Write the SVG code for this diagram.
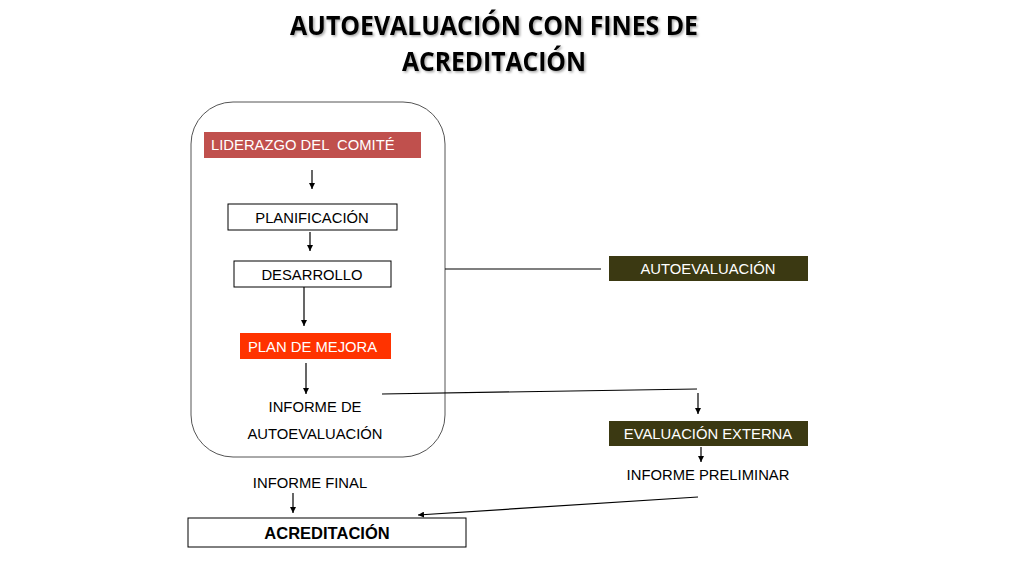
<svg xmlns="http://www.w3.org/2000/svg" width="1024" height="576" viewBox="0 0 1024 576">
<defs>
<marker id="ah" viewBox="0 0 10 10" refX="10" refY="5" markerWidth="6" markerHeight="6" orient="auto" markerUnits="userSpaceOnUse">
<path d="M0,0 L10,5 L0,10 z" fill="#000"/>
</marker>
<filter id="sh" x="-5%" y="-20%" width="110%" height="140%">
<feDropShadow dx="1.5" dy="1.5" stdDeviation="0.8" flood-color="#000" flood-opacity="0.35"/>
</filter>
<style>
.t{font-family:"Liberation Sans",Arial,sans-serif;font-size:14.8px;fill:#000;text-anchor:middle;white-space:pre}
.w{fill:#fff}
.box{fill:#fff;stroke:#000;stroke-width:1}
.ln{stroke:#000;stroke-width:1.2;fill:none}
.ar{stroke:#000;stroke-width:1.2;fill:none;marker-end:url(#ah)}
.title{font-family:"Open Sans","Noto Sans",sans-serif;font-weight:bold;font-size:26px;fill:#000;text-anchor:middle}
</style>
</defs>
<rect width="1024" height="576" fill="#fff"/>
<g id="title" filter="url(#sh)">
<text class="title" x="494" y="35" textLength="408" lengthAdjust="spacingAndGlyphs">AUTOEVALUACIÓN CON FINES DE</text>
<text class="title" x="494" y="71" textLength="184" lengthAdjust="spacingAndGlyphs">ACREDITACIÓN</text>
</g>
<g id="container">
<rect x="191" y="102" width="254" height="355" rx="42" ry="42" fill="#fff" stroke="#555" stroke-width="1"/>
</g>
<g id="connectors">
<line class="ar" x1="312" y1="170" x2="312" y2="189"/>
<line class="ar" x1="310" y1="232" x2="310" y2="251"/>
<line class="ar" x1="304" y1="287" x2="304" y2="326"/>
<line class="ar" x1="306" y1="363" x2="306" y2="394"/>
<line class="ar" x1="293" y1="493" x2="293" y2="513"/>
<line class="ln" x1="445" y1="269" x2="601" y2="269"/>
<line class="ln" x1="382" y1="394" x2="697" y2="389"/>
<line class="ar" x1="698" y1="393" x2="698" y2="414"/>
<line class="ar" x1="701" y1="447" x2="701" y2="462"/>
<line class="ar" x1="698" y1="497" x2="418" y2="515"/>
</g>
<g id="liderazgo">
<rect x="204" y="132" width="217" height="26" fill="#c0504d"/>
<text class="t w" x="211" y="150" style="text-anchor:start" xml:space="preserve">LIDERAZGO DEL  COMITÉ</text>
</g>
<g id="planificacion">
<rect class="box" x="228" y="204" width="169" height="26"/>
<text class="t" x="312" y="223">PLANIFICACIÓN</text>
</g>
<g id="desarrollo">
<rect class="box" x="234" y="261" width="157" height="26"/>
<text class="t" x="312" y="280">DESARROLLO</text>
</g>
<g id="plan-mejora">
<rect x="240" y="333" width="151" height="26" fill="#ff3300"/>
<text class="t w" x="248" y="352" style="text-anchor:start">PLAN DE MEJORA</text>
</g>
<g id="informe-autoevaluacion">
<text class="t" x="315" y="412">INFORME DE</text>
<text class="t" x="315" y="439">AUTOEVALUACIÓN</text>
</g>
<g id="informe-final">
<text class="t" x="310" y="488">INFORME FINAL</text>
</g>
<g id="acreditacion">
<rect class="box" x="188" y="518" width="278" height="29" stroke="#333"/>
<text class="t" x="327" y="539" style="font-weight:bold;font-size:16.5px">ACREDITACIÓN</text>
</g>
<g id="autoevaluacion">
<rect x="609" y="256" width="199" height="25" fill="#3b3912"/>
<text class="t w" x="708" y="274">AUTOEVALUACIÓN</text>
</g>
<g id="evaluacion-externa">
<rect x="609" y="421" width="199" height="25" fill="#3b3912"/>
<text class="t w" x="708" y="439">EVALUACIÓN EXTERNA</text>
</g>
<g id="informe-preliminar">
<text class="t" x="708" y="480">INFORME PRELIMINAR</text>
</g>
</svg>
